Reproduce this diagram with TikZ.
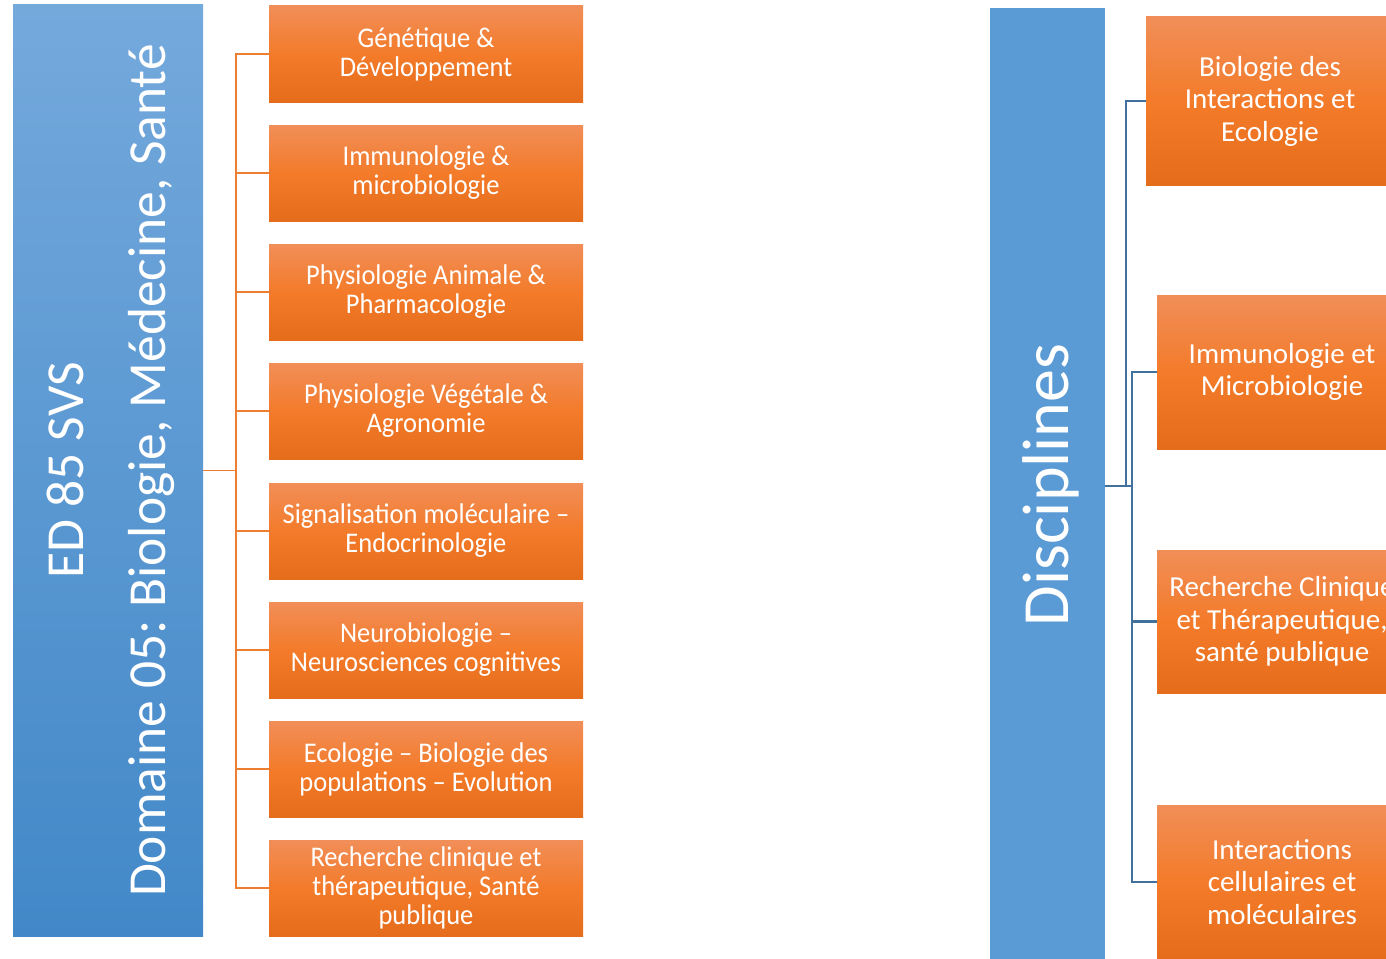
\documentclass[tikz,border=0pt]{standalone}
\usepackage{fontspec}
\setmainfont{Carlito}
\newfontfamily\narrowfont[FakeStretch=0.93]{Carlito}
\usepackage{tikz}
\frenchspacing

\definecolor{discblue}{RGB}{91,155,213}
\definecolor{edbluetop}{RGB}{116,169,220}
\definecolor{edbluebot}{RGB}{66,136,200}
\definecolor{boxtop}{RGB}{241,142,88}
\definecolor{boxmid}{RGB}{243,123,42}
\definecolor{boxbot}{RGB}{228,108,26}
\definecolor{treeorange}{RGB}{237,125,49}
\definecolor{treeblue}{RGB}{65,113,156}

\tikzset{
  orangebox/.style={inner sep=0pt, outer sep=0pt, text=white, align=center,
    top color=boxtop, bottom color=boxbot, middle color=boxmid},
  filiere/.style={orangebox, minimum width=314pt, minimum height=96pt,
    font=\narrowfont\fontsize{28.5}{29}\selectfont},
  discipline/.style={orangebox, minimum width=250pt, minimum height=154pt,
    font=\fontsize{29}{32.5}\selectfont},
  orangeline/.style={treeorange, line width=1.6pt},
  blueline/.style={treeblue, line width=2.2pt}
}

\begin{document}
\begin{tikzpicture}[x=1pt,y=-1pt]
  \useasboundingbox (0,0) rectangle (1386,958);
  \clip (0,0) rectangle (1386,958);

  % ecole doctorale
  \node[inner sep=0pt, outer sep=0pt, minimum width=190pt, minimum height=931pt,
    top color=edbluetop, bottom color=edbluebot] (ed) at (108,470.5) {};
  \node[rotate=90, anchor=base, text=white, align=center,
    font=\fontsize{53.5}{82}\selectfont] (edtitle) at (165,470.5)
    {ED 85 SVS\\Domaine 05: Biologie, Médecine, Santé};

  \node[filiere] (gen) at (426,54) {Génétique \&\\Développement};
  \node[filiere] (imb) at (426,173) {Immunologie \&\\microbiologie};
  \node[filiere] (pha) at (426,292) {Physiologie Animale \&\\Pharmacologie};
  \node[filiere] (agr) at (426,411) {Physiologie Végétale \&\\Agronomie};
  \node[filiere] (end) at (426,531) {Signalisation moléculaire –\\Endocrinologie};
  \node[filiere] (neu) at (426,650) {Neurobiologie –\\Neurosciences cognitives};
  \node[filiere] (evo) at (426,769) {Ecologie – Biologie des\\populations – Evolution};
  \node[filiere] (rcs) at (426,888) {Recherche clinique et\\thérapeutique, Santé\\publique};

  \coordinate (fork) at (236,470.5);
  \draw[orangeline] (ed.east) -- (fork);
  \draw[orangeline] (gen.west) -| (fork);
  \draw[orangeline] (imb.west) -| (fork);
  \draw[orangeline] (pha.west) -| (fork);
  \draw[orangeline] (agr.west) -| (fork);
  \draw[orangeline] (end.west) -| (fork);
  \draw[orangeline] (neu.west) -| (fork);
  \draw[orangeline] (evo.west) -| (fork);
  \draw[orangeline] (rcs.west) -| (fork);

  % disciplines
  \node[inner sep=0pt, outer sep=0pt, minimum width=115pt, minimum height=962pt,
    fill=discblue] (disc) at (1047.5,489) {};
  \node[rotate=90, anchor=base, text=white,
    font=\fontsize{66}{70}\selectfont] (disctitle) at (1068,485) {Disciplines};

  \node[discipline, minimum width=248pt, minimum height=168pt] (bie) at (1270,101)
    {Biologie des\\Interactions et\\Ecologie};
  \node[discipline] (imm) at (1282,372) {Immunologie et\\Microbiologie};
  \node[discipline, minimum height=143pt] (rct) at (1282,621.5)
    {Recherche Clinique\\et Thérapeutique,\\santé publique};
  \node[discipline] (icm) at (1282,882) {Interactions\\cellulaires et\\moléculaires};

  \coordinate (forkA) at (1126,486);
  \coordinate (forkB) at (1132,486);
  \draw[blueline] (disc.east |- forkB) -- (forkB);
  \draw[blueline] (bie.west) -| (forkA);
  \draw[blueline] (imm.west) -| (forkB);
  \draw[blueline] (rct.west) -| (forkB);
  \draw[blueline] (icm.west) -| (forkB);
\end{tikzpicture}
\end{document}
